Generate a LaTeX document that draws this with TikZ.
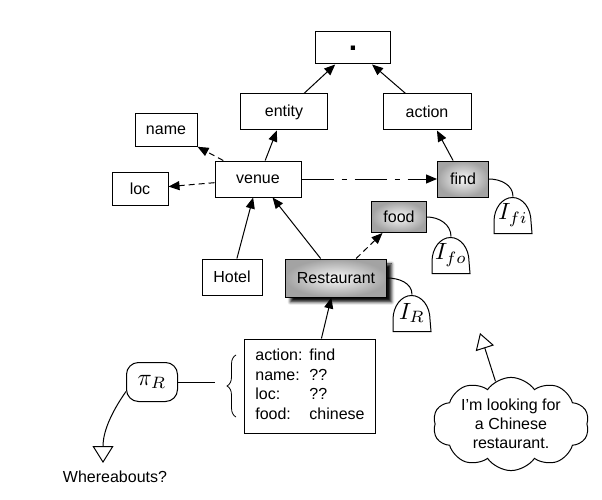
\RequirePackage{fix-cm}
\documentclass[tikz,border=0pt]{standalone}
\usepackage{fontspec}
\setmainfont{Liberation Sans}
\usetikzlibrary{arrows.meta,positioning,shapes.symbols,decorations.pathreplacing,shadows.blur}
\newcommand\bigmath[1]{{\fontsize{10}{12}\selectfont\scalebox{2.35}{$#1$}}}

\begin{document}
\begin{tikzpicture}[x=1pt,y=1pt,line width=1pt,font=\fontsize{16}{19.5}\selectfont,
  box/.style={draw,inner sep=0pt,minimum height=36pt},
  grayfill/.style={inner color=gray!5,outer color=gray!72},
  dome/.style={inner sep=0pt,minimum width=37pt,minimum height=36pt},
  arr/.style={-{Triangle[length=11pt,width=9pt]}},
  dsh/.style={arr,dash pattern=on 6pt off 4pt}]
\useasboundingbox (0,0) rectangle (602,499);
\node[box,minimum width=75pt,minimum height=32pt,font=\fontsize{30}{30}\selectfont\bfseries] (top) at (353,451) {.};
\node[box,minimum width=87pt] (entity) at (284,387) {entity};
\node[box,minimum width=88pt] (action) at (427,387) {action};
\node[box,minimum width=62pt,minimum height=33pt] (name) at (166,369) {name};
\node[box,minimum width=56pt,minimum height=33pt] (loc) at (140,310) {loc};
\node[box,minimum width=86pt] (venue) at (258,320) {venue};
\node[box,grayfill,minimum width=51pt] (find) at (463,320) {find};
\node[box,grayfill,minimum width=55pt,minimum height=31pt] (food) at (399,282) {food};
\node[box,minimum width=60pt] (hotel) at (232,222) {Hotel};
\node[box,grayfill,minimum width=101pt,minimum height=38pt,
  blur shadow={shadow xshift=5pt,shadow yshift=-5pt,shadow opacity=95,shadow blur radius=3pt}] (rest) at (336,221) {Restaurant};
\node[draw,minimum width=131pt,minimum height=94pt] (slots) at (310,113)
  {\begin{tabular}{@{}l@{\hspace{7pt}}l@{}}action: & find\\ name: & ??\\ loc: & ??\\ food: & chinese\end{tabular}};
\node[draw,rounded corners=12pt,minimum width=51pt,minimum height=39pt,inner sep=0pt] (pir) at (152,117) {\bigmath{\pi_R}};
\node (where) at (115,22) {Whereabouts?};
\node[cloud,draw,cloud puffs=10,cloud puff arc=110,aspect=1.9,minimum width=156pt,minimum height=86pt,inner sep=0pt,align=center,font=\fontsize{16}{19}\selectfont] (cloud) at (511,75) {I’m looking for\\a Chinese\\restaurant.};
\node[dome] (ifi) at (513,284) {\bigmath{I_{fi}}};
\node[dome] (ifo) at (451,244) {\bigmath{I_{fo}}};
\node[dome] (ir) at (412,186) {\bigmath{I_R}};
\foreach \d in {ifi,ifo,ir} \draw (\d.south west) -- ++(0,12) arc[start angle=180,end angle=0,x radius=18.5,y radius=24] -- (\d.south east) -- cycle;
\coordinate (bx) at (215,117);
\coordinate (wtip) at (103,36);
\coordinate (ctip) at (480,166);
\draw[arr] (entity) -- (top);
\draw[arr] (action) -- (top);
\draw[arr] (venue) -- (entity);
\draw[arr] (find) -- (action);
\draw[dsh] (venue) -- (name);
\draw[dsh] (venue) -- (loc);
\draw[arr,dash pattern=on 32pt off 8pt on 5pt off 8pt] (venue) -- (find);
\draw[arr] (hotel) -- (venue);
\draw[arr] (rest) -- (venue);
\draw[dsh] (rest) -- (food);
\draw[arr] (slots) -- (rest);
\draw (find.east) to[out=0,in=90] (ifi.north);
\draw (food.east) to[out=0,in=90] (ifo.north);
\draw (rest.east) to[out=0,in=90] (ir.north);
\draw[line width=0.8pt,decorate,decoration={brace,amplitude=9pt}] ([xshift=-8pt,yshift=-31pt]slots.west) -- ([xshift=-8pt,yshift=31pt]slots.west);
\draw (pir.east) -- (bx);
\draw[-{Triangle[open,length=17pt,width=21pt]}] (pir.-160) to[out=-125,in=90] (wtip);
\draw[-{Triangle[open,length=16pt,width=19pt]}] (cloud.110) -- (ctip);
\end{tikzpicture}
\end{document}
